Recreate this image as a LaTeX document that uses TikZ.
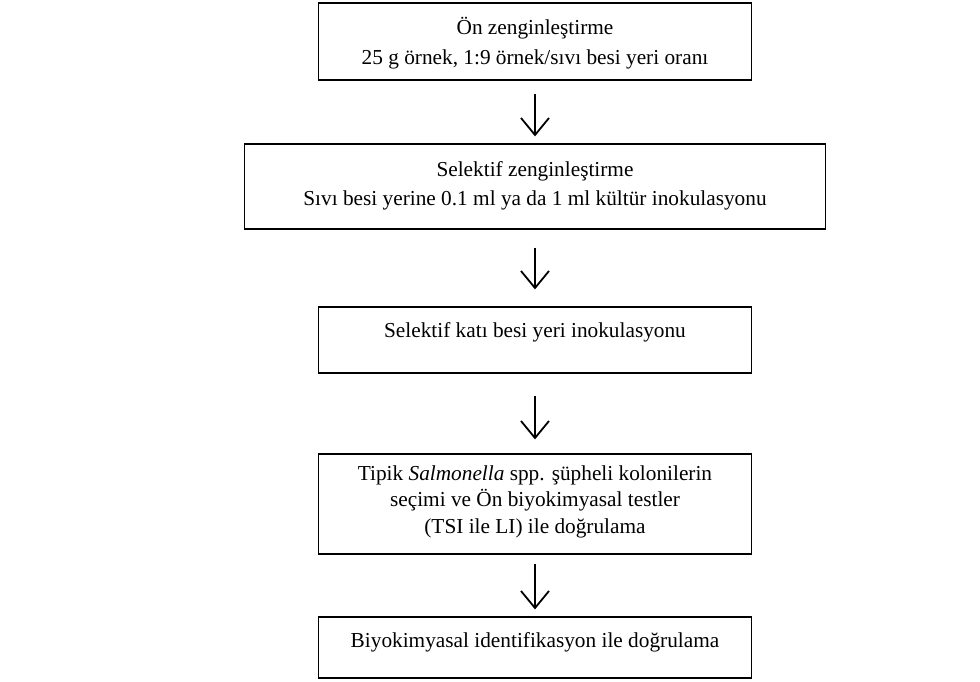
\documentclass[tikz,border=0pt]{standalone}
\usepackage{fontspec}
\setmainfont{Liberation Serif}
\usetikzlibrary{arrows.meta}
\tikzset{
  stepbox/.style={draw, line width=1.2pt, minimum width=433pt, inner sep=0pt},
  steptext/.style={anchor=base, align=center, inner sep=0pt,
                   font=\fontsize{21.3}{26.5}\selectfont},
  flow/.style={line width=1.8pt, -{Straight Barb[length=17pt,width=28pt]}}
}
\begin{document}
\begin{tikzpicture}[x=1pt, y=-1pt]
  \useasboundingbox (0,0) rectangle (980,682);

  % kutular
  \node[stepbox, minimum height=77pt] (onzen) at (535,41.5) {};
  \node[stepbox, minimum height=85pt, minimum width=581pt] (selzen) at (535,186.5) {};
  \node[stepbox, minimum height=66pt] (katinok) at (535,340) {};
  \node[stepbox, minimum height=100pt] (tipik) at (535,504) {};
  \node[stepbox, minimum height=61pt] (biyo) at (535,647.5) {};

  % metinler (base = son satir)
  \node[steptext] (onzentxt) at (535,65)
    {Ön zenginleştirme\\[3.5pt] 25 g örnek, 1:9 örnek/sıvı besi yeri oranı};
  \node[steptext] (selzentxt) at (535,205)
    {Selektif zenginleştirme\\[2.5pt] Sıvı besi yerine 0.1 ml ya da 1 ml kültür inokulasyonu};
  \node[steptext] (katinoktxt) at (535,337) {Selektif katı besi yeri inokulasyonu};
  \node[steptext] (tipiktxt) at (535,533)
    {Tipik \textit{Salmonella} spp. şüpheli kolonilerin\\ seçimi ve Ön biyokimyasal testler\\ (TSI ile LI) ile doğrulama};
  \node[steptext] (biyotxt) at (535,647) {Biyokimyasal identifikasyon ile doğrulama};

  % oklar
  \draw[flow, shorten <=13pt, shorten >=7pt] (onzen.south) -- (selzen.north);
  \draw[flow, shorten <=18pt, shorten >=17pt] (selzen.south) -- (katinok.north);
  \draw[flow, shorten <=22pt, shorten >=14pt] (katinok.south) -- (tipik.north);
  \draw[flow, shorten <=9pt, shorten >=7pt] (tipik.south) -- (biyo.north);
\end{tikzpicture}
\end{document}
